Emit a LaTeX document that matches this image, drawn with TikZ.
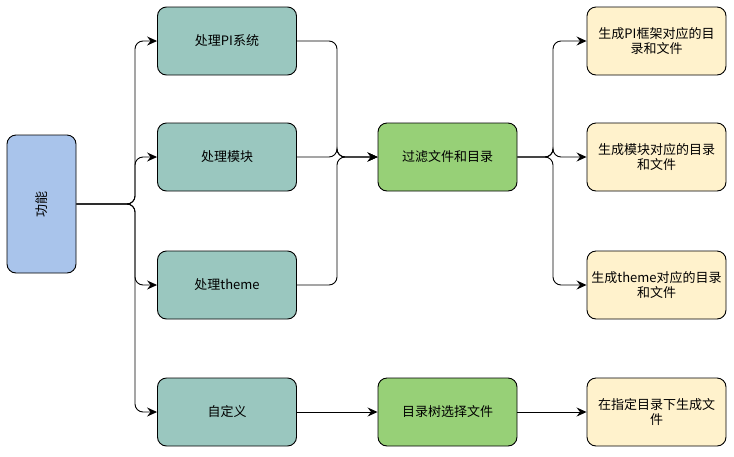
\documentclass[tikz,border=0pt]{standalone}
\usepackage{fontspec}
\setmainfont{Noto Sans CJK SC}
\usetikzlibrary{arrows.meta}
\definecolor{funcblue}{HTML}{A9C4EB}
\definecolor{procteal}{HTML}{9AC7BF}
\definecolor{filtgreen}{HTML}{97D077}
\definecolor{genyellow}{HTML}{FFF2CC}

\begin{document}
\begin{tikzpicture}[x=1pt,y=-1pt]
   \useasboundingbox (0,0) rectangle (734,456);
   \fontsize{13}{15.5}\selectfont
   \tikzstyle{box}=[rectangle, rounded corners=9pt, draw=black, line width=0.9pt, minimum width=139pt, minimum height=68pt, align=center, inner sep=1pt]
   \tikzstyle{conn}=[draw=black, line width=0.9pt, rounded corners=8pt, -{Stealth[length=10pt,width=9pt,inset=3.5pt]}]
   \node[box, fill=funcblue, minimum width=69pt, minimum height=138pt] (func) at (41.5,204) {};
   \node[rotate=90] at (func.center) {功能};
   \node[box, fill=procteal] (pisys) at (227,41) {处理PI系统};
   \node[box, fill=procteal] (module) at (227,157) {处理模块};
   \node[box, fill=procteal] (theme) at (227,285) {处理theme};
   \node[box, fill=procteal] (custom) at (227,412) {自定义};
   \node[box, fill=filtgreen] (filter) at (447.5,157) {过滤文件和目录};
   \node[box, fill=filtgreen] (treesel) at (447.5,412) {目录树选择文件};
   \node[box, fill=genyellow] (genpi) at (656.5,41) {生成PI框架对应的目\\录和文件};
   \node[box, fill=genyellow] (genmod) at (656.5,157) {生成模块对应的目录\\和文件};
   \node[box, fill=genyellow] (gentheme) at (656.5,285) {生成theme对应的目录\\和文件};
   \node[box, fill=genyellow] (gendir) at (656.5,412) {在指定目录下生成文\\件};
   % split points
   \coordinate (fork) at (135,204);
   \coordinate (merge) at (337,157);
   \coordinate (spread) at (553,157);
   \foreach \n in {pisys,module,theme,custom}
      \draw[conn] (func.east) -- (fork) |- (\n.west);
   \foreach \n in {pisys,module,theme}
      \draw[conn] (\n.east) -| (merge) -- (filter.west);
   \foreach \n in {genpi,genmod,gentheme}
      \draw[conn] (filter.east) -- (spread) |- (\n.west);
   \draw[conn] (custom) -- (treesel);
   \draw[conn] (treesel) -- (gendir);
\end{tikzpicture}
\end{document}
